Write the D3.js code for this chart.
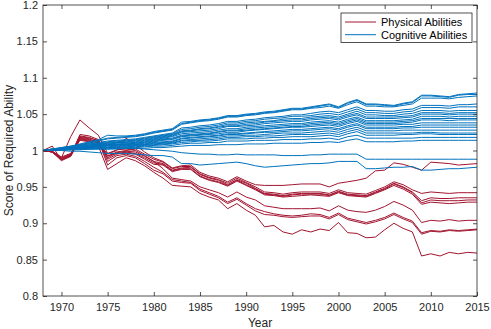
<!DOCTYPE html>
<html>
<head>
<meta charset="utf-8">
<script src="https://cdn.jsdelivr.net/npm/d3@7"></script>
<style>
  body { margin: 0; background: #fff; }
  text { font-family: "Liberation Sans", Arial, Helvetica, sans-serif; }
</style>
</head>
<body>
<div id="chart-area"></div>
<script>
// annual values, 1968-2015
var years = [1968,1969,1970,1971,1972,1973,1974,1975,1976,1977,1978,1979,1980,1981,1982,1983,1984,1985,1986,1987,
	1988,1989,1990,1991,1992,1993,1994,1995,1996,1997,1998,1999,2000,2001,2002,2003,2004,2005,2006,2007,
	2008,2009,2010,2011,2012,2013,2014,2015];

var xTicks = [1970,1975,1980,1985,1990,1995,2000,2005,2010,2015];
var yTicks = [0.8,0.85,0.9,0.95,1,1.05,1.1,1.15,1.2];
var yTickLabels = ["0.8","0.85","0.9","0.95","1","1.05","1.1","1.15","1.2"];
var seriesNames = ["Physical Abilities","Cognitive Abilities"];

// physical abilities
var phys1 = [1.000,0.999,0.991,0.996,1.016,1.014,1.010,0.995,1.000,1.017,1.008,0.998,0.990,
	0.985,0.976,0.979,0.980,0.970,0.965,0.962,0.957,0.964,0.958,0.953,
	0.952,0.952,0.952,0.953,0.954,0.954,0.954,0.950,0.955,0.957,0.959,0.962,0.972,0.973,0.983,0.981,0.977,0.973,0.984,0.983,0.982,0.980,0.981,0.982];
var phys2 = [1.000,0.999,0.990,0.995,1.020,1.018,1.013,0.992,0.998,1.000,1.002,0.995,0.988,
	0.984,0.975,0.978,0.978,0.968,0.963,0.960,0.955,0.962,0.956,0.950,
	0.943,0.942,0.940,0.942,0.943,0.943,0.943,0.941,0.946,0.942,0.941,0.940,0.945,0.950,0.957,0.953,0.946,0.941,0.943,0.942,0.941,0.942,0.942,0.942];
var phys3 = [1.000,0.998,0.989,0.994,1.018,1.016,1.010,0.990,0.997,0.999,0.998,0.992,0.985,
	0.982,0.973,0.976,0.977,0.967,0.962,0.959,0.953,0.960,0.955,0.948,
	0.941,0.940,0.938,0.940,0.941,0.941,0.941,0.939,0.944,0.940,0.939,0.938,0.943,0.948,0.955,0.950,0.943,0.931,0.935,0.934,0.934,0.935,0.935,0.935];
var phys4 = [1.000,0.998,0.988,0.993,1.022,1.020,1.015,0.988,0.995,0.998,0.996,0.990,0.983,
	0.981,0.972,0.975,0.975,0.965,0.960,0.957,0.952,0.959,0.953,0.947,
	0.940,0.939,0.937,0.939,0.940,0.940,0.940,0.938,0.943,0.939,0.938,0.937,0.942,0.947,0.954,0.949,0.942,0.928,0.932,0.931,0.931,0.931,0.932,0.932];
var phys5 = [1.000,1.006,0.987,0.995,1.014,1.012,1.008,0.993,0.996,0.997,0.995,0.988,0.981,
	0.980,0.971,0.974,0.974,0.964,0.959,0.956,0.951,0.958,0.952,0.946,
	0.939,0.938,0.936,0.937,0.938,0.939,0.938,0.937,0.942,0.938,0.937,0.936,0.941,0.946,0.952,0.947,0.940,0.926,0.929,0.928,0.927,0.928,0.929,0.929];
var phys6 = [1.000,0.998,0.988,0.992,1.017,1.015,1.012,0.985,0.993,0.995,0.992,0.985,0.977,
	0.970,0.960,0.958,0.956,0.947,0.942,0.937,0.929,0.935,0.927,0.920,
	0.916,0.913,0.911,0.910,0.911,0.913,0.912,0.908,0.914,0.907,0.904,0.901,0.904,0.908,0.914,0.908,0.903,0.887,0.890,0.889,0.891,0.890,0.891,0.892];
var phys7 = [1.000,0.998,0.987,0.993,1.019,1.017,1.014,0.980,0.990,0.993,0.990,0.982,0.973,
	0.968,0.958,0.956,0.955,0.945,0.940,0.935,0.927,0.933,0.925,0.917,
	0.912,0.911,0.909,0.908,0.909,0.910,0.910,0.906,0.912,0.905,0.902,0.899,0.902,0.906,0.912,0.906,0.901,0.885,0.889,0.888,0.890,0.889,0.890,0.891];
var phys8 = [1.000,0.999,0.990,1.019,1.042,1.031,1.021,0.996,1.001,1.002,1.000,0.993,0.985,
	0.975,0.962,0.960,0.958,0.950,0.946,0.942,0.936,0.943,0.936,0.932,
	0.924,0.922,0.920,0.920,0.920,0.920,0.921,0.917,0.924,0.918,0.916,0.915,0.918,0.923,0.930,0.925,0.918,0.901,0.904,0.903,0.905,0.903,0.904,0.904];
var phys9 = [1.000,0.998,0.986,0.992,1.015,1.013,1.006,0.974,0.982,0.990,0.986,0.979,0.970,
	0.962,0.952,0.951,0.950,0.941,0.936,0.932,0.920,0.927,0.918,0.911,
	0.895,0.897,0.888,0.885,0.891,0.888,0.892,0.890,0.901,0.887,0.886,0.880,0.881,0.891,0.900,0.893,0.888,0.855,0.858,0.855,0.860,0.858,0.860,0.859];

// cognitive abilities
var cog1 = [1.000,1.002,1.004,1.006,1.009,1.012,1.015,1.021,1.020,1.020,1.021,1.023,1.026,1.028,1.030,1.039,1.040,1.042,1.043,1.045,
	1.048,1.048,1.050,1.051,1.053,1.054,1.056,1.058,1.058,1.060,1.062,1.064,1.060,1.066,1.070,1.064,1.064,1.063,1.062,1.065,
	1.067,1.076,1.076,1.075,1.074,1.077,1.078,1.079];
var cog2 = [1.000,1.002,1.004,1.006,1.008,1.011,1.014,1.017,1.018,1.019,1.020,1.022,1.025,1.027,1.029,1.037,1.039,1.041,1.042,1.044,
	1.047,1.047,1.049,1.050,1.052,1.053,1.055,1.057,1.057,1.059,1.061,1.063,1.059,1.065,1.069,1.063,1.063,1.062,1.061,1.064,
	1.066,1.075,1.075,1.074,1.073,1.076,1.077,1.077];
var cog3 = [1.000,1.002,1.003,1.005,1.008,1.010,1.013,1.016,1.017,1.018,1.019,1.021,1.024,1.026,1.028,1.036,1.038,1.040,1.041,1.043,
	1.046,1.046,1.048,1.049,1.051,1.052,1.054,1.056,1.056,1.058,1.059,1.061,1.058,1.063,1.067,1.061,1.061,1.060,1.060,1.062,
	1.064,1.072,1.072,1.072,1.071,1.073,1.074,1.075];
var cog4 = [1.000,1.002,1.003,1.005,1.007,1.009,1.011,1.013,1.014,1.015,1.016,1.018,1.020,1.022,1.024,1.031,1.032,1.034,1.035,1.037,
	1.040,1.040,1.042,1.043,1.045,1.046,1.047,1.049,1.049,1.051,1.053,1.054,1.052,1.056,1.060,1.055,1.055,1.054,1.054,1.056,
	1.057,1.062,1.062,1.062,1.061,1.063,1.063,1.064];
var cog5 = [1.000,1.001,1.003,1.005,1.007,1.009,1.010,1.012,1.013,1.014,1.015,1.017,1.019,1.021,1.023,1.029,1.030,1.032,1.033,1.035,
	1.038,1.038,1.040,1.041,1.043,1.044,1.045,1.047,1.047,1.048,1.050,1.051,1.049,1.053,1.057,1.052,1.052,1.051,1.051,1.053,
	1.054,1.059,1.059,1.059,1.058,1.060,1.060,1.060];
var cog6 = [1.000,1.001,1.003,1.004,1.006,1.008,1.009,1.011,1.012,1.013,1.014,1.016,1.018,1.020,1.022,1.027,1.028,1.030,1.031,1.033,
	1.036,1.036,1.038,1.039,1.040,1.041,1.043,1.044,1.044,1.046,1.047,1.048,1.046,1.050,1.054,1.049,1.049,1.048,1.048,1.050,
	1.051,1.055,1.055,1.055,1.054,1.055,1.055,1.055];
var cog7 = [1.000,1.001,1.002,1.004,1.006,1.007,1.009,1.010,1.011,1.012,1.013,1.015,1.017,1.019,1.021,1.026,1.027,1.029,1.030,1.032,
	1.034,1.034,1.036,1.037,1.039,1.040,1.041,1.042,1.042,1.044,1.045,1.046,1.044,1.048,1.051,1.046,1.046,1.046,1.046,1.047,
	1.048,1.052,1.052,1.052,1.051,1.052,1.052,1.052];
var cog8 = [1.000,1.001,1.002,1.004,1.005,1.007,1.008,1.010,1.011,1.011,1.012,1.014,1.016,1.018,1.020,1.025,1.026,1.027,1.028,1.030,
	1.033,1.033,1.034,1.035,1.037,1.038,1.039,1.040,1.040,1.042,1.043,1.044,1.042,1.046,1.049,1.044,1.044,1.044,1.044,1.045,
	1.046,1.050,1.050,1.050,1.049,1.050,1.050,1.050];
var cog9 = [1.000,1.001,1.002,1.003,1.005,1.006,1.008,1.009,1.010,1.010,1.011,1.013,1.015,1.017,1.019,1.023,1.024,1.025,1.026,1.028,
	1.030,1.030,1.032,1.033,1.034,1.035,1.036,1.037,1.037,1.039,1.040,1.041,1.039,1.043,1.046,1.041,1.041,1.041,1.041,1.042,
	1.043,1.047,1.047,1.047,1.046,1.047,1.047,1.047];
var cog10 = [1.000,1.001,1.002,1.003,1.005,1.006,1.007,1.008,1.009,1.009,1.010,1.012,1.014,1.016,1.017,1.021,1.022,1.023,1.024,1.026,
	1.028,1.028,1.030,1.031,1.032,1.033,1.034,1.035,1.035,1.037,1.038,1.039,1.037,1.041,1.044,1.039,1.039,1.039,1.039,1.040,
	1.041,1.044,1.044,1.044,1.044,1.044,1.044,1.044];
var cog11 = [1.000,1.001,1.002,1.003,1.004,1.005,1.007,1.008,1.008,1.009,1.010,1.011,1.013,1.015,1.016,1.020,1.021,1.022,1.023,1.025,
	1.027,1.027,1.028,1.029,1.030,1.031,1.032,1.033,1.033,1.035,1.036,1.037,1.035,1.039,1.042,1.037,1.037,1.037,1.037,1.038,
	1.039,1.042,1.042,1.042,1.041,1.042,1.042,1.042];
var cog12 = [1.000,1.001,1.002,1.003,1.004,1.005,1.006,1.007,1.008,1.008,1.009,1.010,1.012,1.014,1.015,1.019,1.020,1.021,1.022,1.023,
	1.025,1.025,1.027,1.028,1.029,1.030,1.031,1.032,1.032,1.033,1.034,1.035,1.033,1.037,1.040,1.035,1.035,1.035,1.035,1.036,
	1.036,1.038,1.038,1.038,1.038,1.038,1.038,1.038];
var cog13 = [1.000,1.001,1.002,1.003,1.004,1.005,1.006,1.007,1.007,1.008,1.008,1.009,1.011,1.012,1.013,1.017,1.018,1.019,1.020,1.021,
	1.023,1.023,1.024,1.025,1.026,1.027,1.028,1.029,1.029,1.030,1.031,1.032,1.030,1.034,1.037,1.032,1.032,1.032,1.032,1.033,
	1.033,1.035,1.035,1.035,1.035,1.035,1.035,1.035];
var cog14 = [1.000,1.001,1.002,1.002,1.003,1.004,1.005,1.006,1.006,1.007,1.007,1.008,1.010,1.011,1.012,1.016,1.017,1.018,1.019,1.020,
	1.022,1.022,1.023,1.024,1.025,1.025,1.026,1.027,1.027,1.028,1.029,1.030,1.028,1.032,1.035,1.030,1.030,1.030,1.030,1.031,
	1.031,1.032,1.032,1.032,1.032,1.032,1.032,1.032];
var cog15 = [1.000,1.001,1.001,1.002,1.003,1.004,1.005,1.005,1.006,1.006,1.007,1.008,1.009,1.010,1.011,1.014,1.015,1.016,1.017,1.018,
	1.020,1.020,1.021,1.021,1.022,1.023,1.024,1.024,1.024,1.025,1.026,1.027,1.025,1.029,1.032,1.027,1.027,1.027,1.027,1.028,
	1.028,1.028,1.028,1.028,1.028,1.028,1.028,1.028];
var cog16 = [1.000,1.001,1.001,1.002,1.003,1.003,1.004,1.004,1.005,1.005,1.006,1.007,1.008,1.009,1.010,1.013,1.014,1.014,1.015,1.016,
	1.018,1.018,1.019,1.019,1.020,1.020,1.021,1.022,1.022,1.022,1.023,1.024,1.022,1.026,1.029,1.024,1.024,1.024,1.024,1.024,
	1.024,1.025,1.025,1.024,1.024,1.024,1.024,1.024];
var cog17 = [1.000,1.000,1.001,1.002,1.002,1.003,1.003,1.004,1.004,1.005,1.005,1.006,1.007,1.008,1.009,1.011,1.012,1.013,1.013,1.014,
	1.016,1.016,1.016,1.017,1.017,1.018,1.018,1.019,1.019,1.019,1.020,1.021,1.019,1.023,1.026,1.021,1.021,1.021,1.021,1.022,
	1.022,1.023,1.023,1.022,1.022,1.022,1.022,1.022];
var cog18 = [1.000,1.000,1.001,1.001,1.002,1.002,1.003,1.003,1.003,1.004,1.004,1.005,1.006,1.006,1.007,1.009,1.010,1.010,1.011,1.011,
	1.013,1.013,1.013,1.014,1.014,1.014,1.015,1.015,1.015,1.016,1.016,1.017,1.015,1.019,1.021,1.017,1.017,1.017,1.017,1.017,
	1.017,1.018,1.018,1.018,1.018,1.018,1.018,1.018];
var cog19 = [1.000,1.000,1.001,1.001,1.001,1.002,1.002,1.002,1.002,1.003,1.003,1.003,1.004,1.004,1.005,1.006,1.007,1.007,1.007,1.008,
	1.008,1.008,1.009,1.009,1.009,1.010,1.010,1.010,1.010,1.011,1.011,1.012,1.011,1.014,1.016,1.012,1.012,1.012,1.012,1.013,
	1.013,1.014,1.014,1.014,1.014,1.014,1.014,1.014];
var cog20 = [1.000,1.000,1.001,1.001,1.002,1.002,1.002,1.002,1.003,1.003,1.003,1.002,1.001,1.000,0.999,0.997,0.996,0.995,0.995,0.994,
	0.994,0.995,0.994,0.994,0.994,0.994,0.993,0.993,0.993,0.994,0.994,0.995,0.995,0.995,0.995,0.988,0.988,0.988,0.988,0.988,
	0.988,0.988,0.988,0.988,0.988,0.988,0.988,0.988];
var cog21 = [1.000,1.000,1.000,0.999,0.999,0.998,0.997,0.996,0.996,0.996,0.995,0.994,0.993,0.993,0.991,0.982,0.982,0.980,0.981,0.982,
	0.983,0.984,0.982,0.979,0.977,0.978,0.979,0.980,0.981,0.982,0.982,0.983,0.985,0.985,0.985,0.975,0.975,0.976,0.977,0.977,
	0.978,0.973,0.973,0.974,0.975,0.975,0.976,0.977];

var physical = [phys1, phys2, phys3, phys4, phys5, phys6, phys7, phys8, phys9];
var cognitive = [cog1, cog2, cog3, cog4, cog5, cog6, cog7, cog8, cog9, cog10, cog11, cog12, cog13, cog14,
	cog15, cog16, cog17, cog18, cog19, cog20, cog21];

var colors = ["#A2142F", "#0072BD"];
var axisColor = "#262626";

var margin = {top: 5, right: 14, bottom: 33, left: 43};
var width = 491 - margin.left - margin.right;
var height = 329 - margin.top - margin.bottom;

var svg = d3.select("#chart-area")
	.append("svg")
		.attr("width", 491)
		.attr("height", 329);

var g = svg.append("g")
	.attr("transform", "translate(" + margin.left + ", " + margin.top + ")");

var x = d3.scaleLinear()
	.domain([1968, 2015])
	.range([0, width]);

var y = d3.scaleLinear()
	.domain([0.8, 1.2])
	.range([height, 0]);

var line = d3.line()
	.x(function(d, i) { return x(years[i]); })
	.y(function(d) { return y(d); });

// red first, blue drawn over it
g.selectAll(".phys")
	.data(physical)
	.enter().append("path")
		.attr("class", "phys")
		.attr("d", line)
		.attr("fill", "none")
		.attr("stroke", colors[0])
		.attr("stroke-width", 1);

g.selectAll(".cog")
	.data(cognitive)
	.enter().append("path")
		.attr("class", "cog")
		.attr("d", line)
		.attr("fill", "none")
		.attr("stroke", colors[1])
		.attr("stroke-width", 1);

// axes with inward ticks on all four sides
var bottomAxis = d3.axisBottom(x).tickValues(xTicks).tickFormat(d3.format("d"))
	.tickSizeInner(-4).tickSizeOuter(0).tickPadding(7);
var topAxis = d3.axisTop(x).tickValues(xTicks).tickFormat("")
	.tickSizeInner(-4).tickSizeOuter(0);
var leftAxis = d3.axisLeft(y).tickValues(yTicks).tickFormat(function(d, i) { return yTickLabels[i]; })
	.tickSizeInner(-4).tickSizeOuter(0).tickPadding(5);
var rightAxis = d3.axisRight(y).tickValues(yTicks).tickFormat("")
	.tickSizeInner(-4).tickSizeOuter(0);

g.append("g").attr("class", "bottom axis").attr("transform", "translate(0, " + height + ")").call(bottomAxis);
g.append("g").attr("class", "top axis").call(topAxis);
g.append("g").attr("class", "left axis").call(leftAxis);
g.append("g").attr("class", "right axis").attr("transform", "translate(" + width + ", 0)").call(rightAxis);

g.selectAll(".axis .domain").remove();
g.selectAll(".axis line").attr("stroke", axisColor).attr("stroke-width", 0.8);
g.selectAll(".axis text")
	.attr("fill", axisColor)
	.attr("font-size", "11px");

g.append("rect")
	.attr("x", 0)
	.attr("y", 0)
	.attr("width", width)
	.attr("height", height)
	.attr("fill", "none")
	.attr("stroke", axisColor)
	.attr("stroke-width", 0.8);

// axis labels
g.append("text")
	.attr("x", width / 2)
	.attr("y", height + 31)
	.attr("text-anchor", "middle")
	.attr("font-size", "12px")
	.attr("fill", axisColor)
	.text("Year");

g.append("text")
	.attr("x", -(height / 2))
	.attr("y", -30)
	.attr("text-anchor", "middle")
	.attr("transform", "rotate(-90)")
	.attr("font-size", "12px")
	.attr("fill", axisColor)
	.text("Score of Required Ability");

// legend
var legend = g.append("g")
	.attr("transform", "translate(" + (width - 136) + ", 8)");

legend.append("rect")
	.attr("width", 131)
	.attr("height", 29.5)
	.attr("fill", "#fff")
	.attr("stroke", axisColor)
	.attr("stroke-width", 0.8);

seriesNames.forEach(function(name, i) {
	legend.append("line")
		.attr("x1", 4)
		.attr("x2", 35)
		.attr("y1", 9 + i * 12.7)
		.attr("y2", 9 + i * 12.7)
		.attr("stroke", colors[i])
		.attr("stroke-width", 1);
	legend.append("text")
		.attr("x", 40)
		.attr("y", 9 + i * 12.7)
		.attr("dy", "0.35em")
		.attr("font-size", "11px")
		.attr("fill", "#000")
		.text(name);
});
</script>
</body>
</html>
